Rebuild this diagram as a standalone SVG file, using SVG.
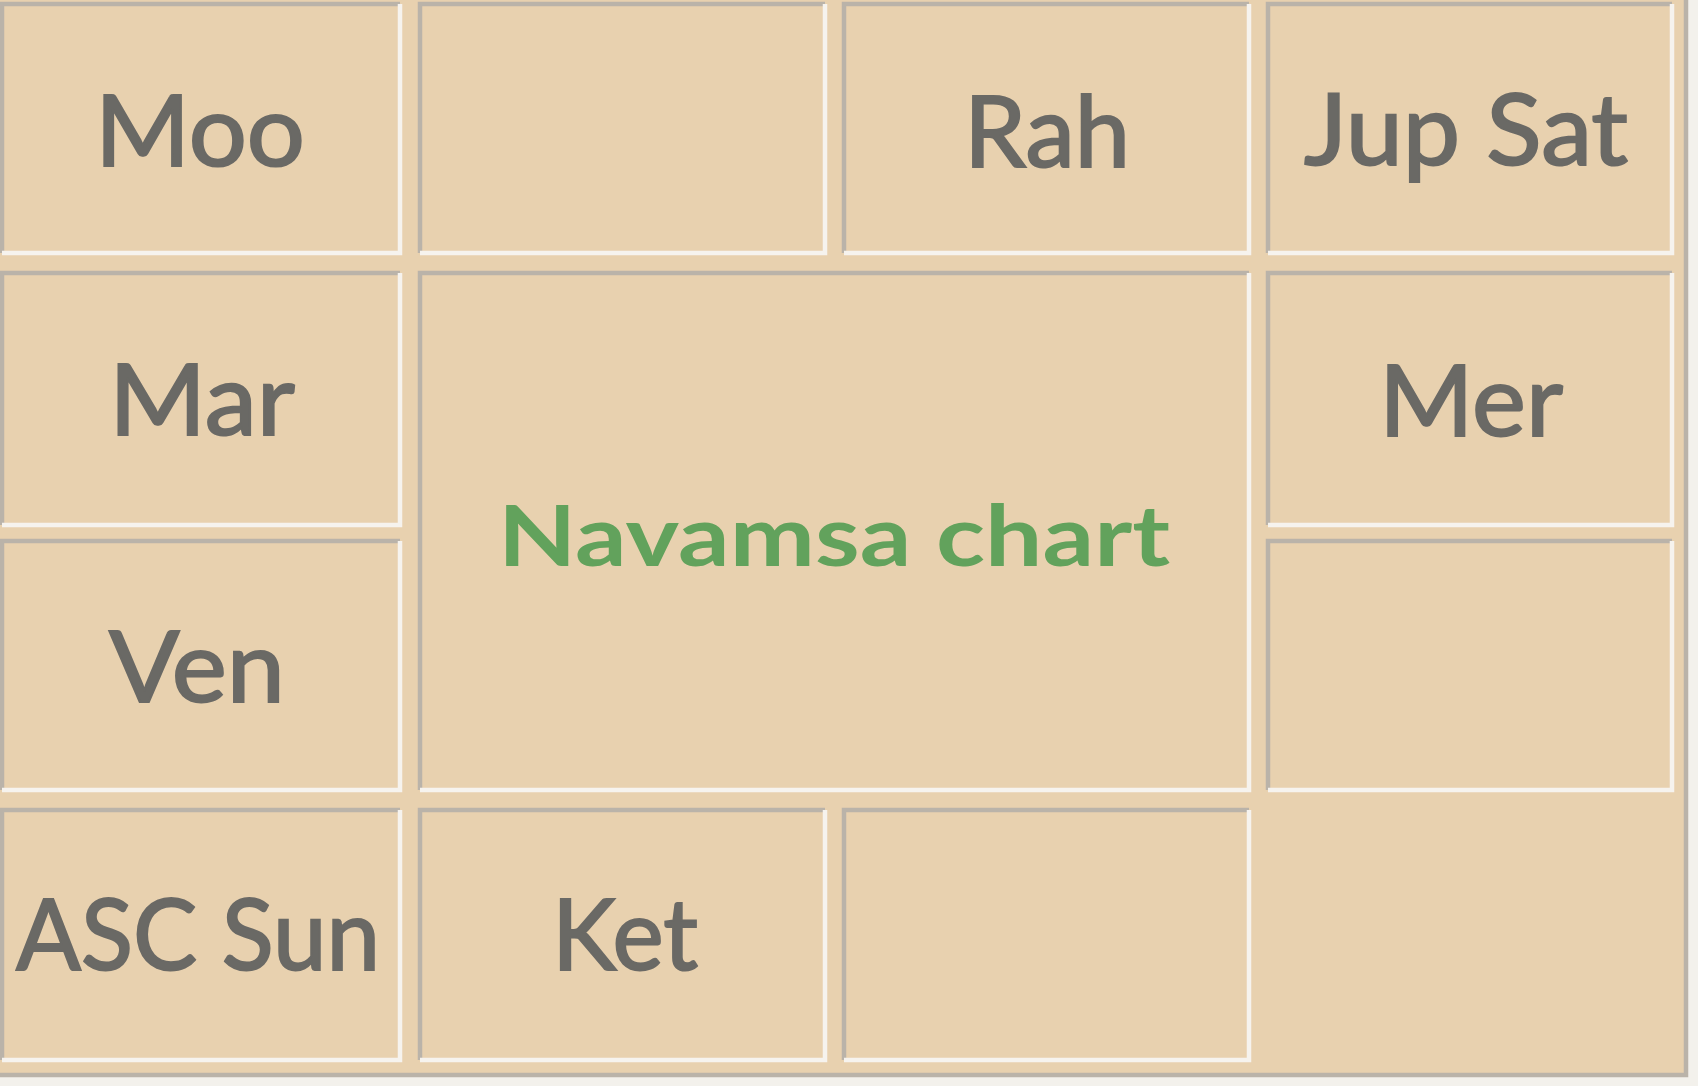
<svg xmlns="http://www.w3.org/2000/svg" width="1698" height="1086" viewBox="0 0 1698 1086">
  <defs>
    <style>
      .paper { fill: #f3f1ec; }
      .board { fill: #e8d1af; }
      .hi { fill: none; stroke: #f6f3ee; stroke-width: 4.5; }
      .lo { fill: none; stroke: #bab3a9; stroke-width: 4.5; }
      .lbl { font-family: Lato, "Open Sans", "Liberation Sans", sans-serif; font-size: 99px; fill: #6a6965; stroke: #6a6965; stroke-width: 2; text-anchor: middle; }
      .title { font-family: Lato, "Open Sans", "Liberation Sans", sans-serif; font-weight: bold; font-size: 85px; fill: #62a25c; text-anchor: middle; }
    </style>
  </defs>
  <rect class="paper" x="0" y="0" width="1698" height="1086"/>
  <rect class="board" x="0" y="0" width="1686" height="1075"/>
  <g id="connectors">
    <path class="lo" d="M1686,0 V1075 H0"/>
  </g>
  <g id="cell-r1c1">
    <path class="lo" d="M2,253 V4 H400"/>
    <path class="hi" d="M400,4 V253 H2"/>
    <text class="lbl" x="200" y="166" textLength="210" lengthAdjust="spacingAndGlyphs">Moo</text>
  </g>
  <g id="cell-r1c2">
    <path class="lo" d="M420,253 V4 H825"/>
    <path class="hi" d="M825,4 V253 H420"/>
  </g>
  <g id="cell-r1c3">
    <path class="lo" d="M844,253 V4 H1249"/>
    <path class="hi" d="M1249,4 V253 H844"/>
    <text class="lbl" x="1047" y="167" textLength="166" lengthAdjust="spacingAndGlyphs">Rah</text>
  </g>
  <g id="cell-r1c4">
    <path class="lo" d="M1268,253 V4 H1672"/>
    <path class="hi" d="M1672,4 V253 H1268"/>
    <text class="lbl" x="1466" y="165" textLength="324" lengthAdjust="spacingAndGlyphs">Jup Sat</text>
  </g>
  <g id="cell-r2c1">
    <path class="lo" d="M2,525 V273 H400"/>
    <path class="hi" d="M400,273 V525 H2"/>
    <text class="lbl" x="202" y="435" textLength="186" lengthAdjust="spacingAndGlyphs">Mar</text>
  </g>
  <g id="cell-center">
    <path class="lo" d="M420,790 V273 H1249"/>
    <path class="hi" d="M1249,273 V790 H420"/>
    <text class="title" x="834" y="566" textLength="672" lengthAdjust="spacingAndGlyphs">Navamsa chart</text>
  </g>
  <g id="cell-r2c4">
    <path class="lo" d="M1268,525 V273 H1672"/>
    <path class="hi" d="M1672,273 V525 H1268"/>
    <text class="lbl" x="1471" y="436" textLength="184" lengthAdjust="spacingAndGlyphs">Mer</text>
  </g>
  <g id="cell-r3c1">
    <path class="lo" d="M2,790 V541 H400"/>
    <path class="hi" d="M400,541 V790 H2"/>
    <text class="lbl" x="197" y="702" textLength="176" lengthAdjust="spacingAndGlyphs">Ven</text>
  </g>
  <g id="cell-r3c4">
    <path class="lo" d="M1268,790 V541 H1672"/>
    <path class="hi" d="M1672,541 V790 H1268"/>
  </g>
  <g id="cell-r4c1">
    <path class="lo" d="M2,1060 V810 H400"/>
    <path class="hi" d="M400,810 V1060 H2"/>
    <text class="lbl" x="198" y="970" textLength="364" lengthAdjust="spacingAndGlyphs">ASC Sun</text>
  </g>
  <g id="cell-r4c2">
    <path class="lo" d="M420,1060 V810 H825"/>
    <path class="hi" d="M825,810 V1060 H420"/>
    <text class="lbl" x="625" y="970" textLength="146" lengthAdjust="spacingAndGlyphs">Ket</text>
  </g>
  <g id="cell-r4c3">
    <path class="lo" d="M844,1060 V810 H1249"/>
    <path class="hi" d="M1249,810 V1060 H844"/>
  </g>
</svg>
